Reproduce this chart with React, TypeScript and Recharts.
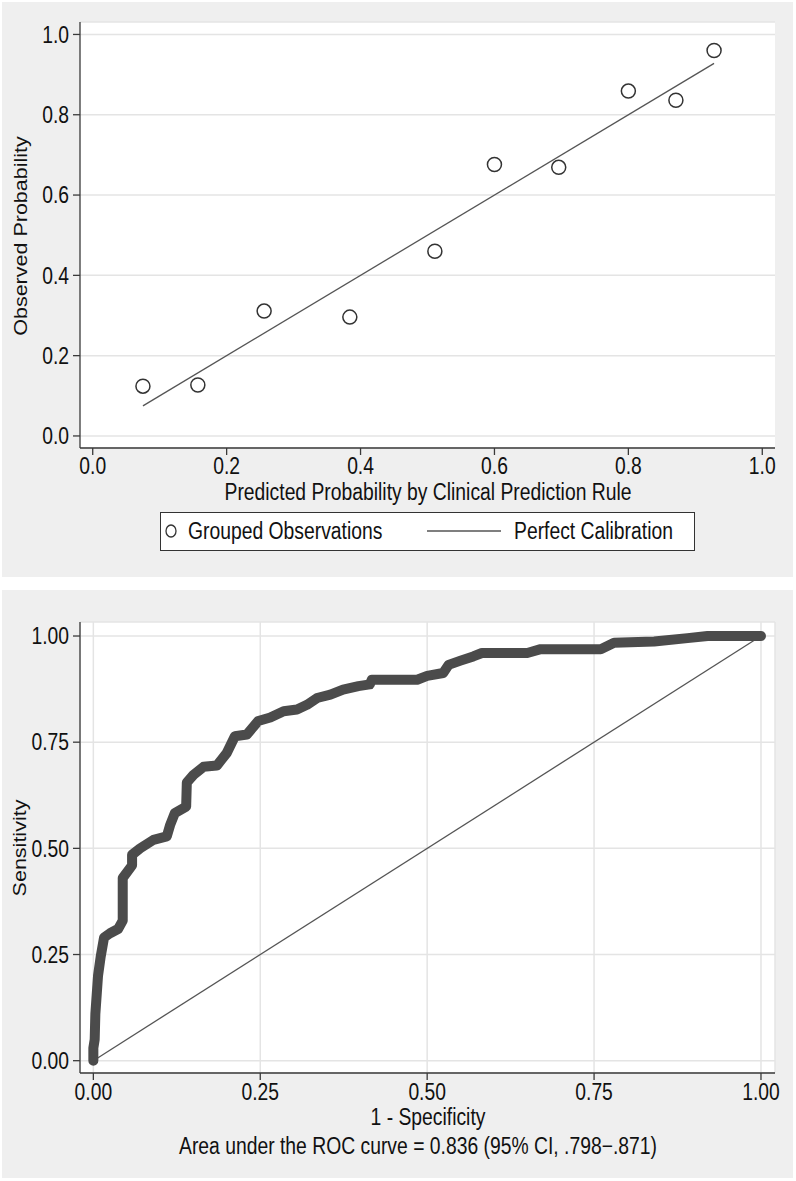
import React from "react";
import { ScatterChart, Scatter, XAxis, YAxis, CartesianGrid } from "recharts";

// calibration plot (grouped observations)
const CAL_PRED = [0.075, 0.157, 0.256, 0.384, 0.511, 0.6, 0.696, 0.8, 0.871, 0.928];
const CAL_OBS = [0.124, 0.127, 0.311, 0.296, 0.46, 0.676, 0.669, 0.859, 0.836, 0.96];
const CAL_LINE = [0.075, 0.928];
const CAL_TICKS = [0, 0.2, 0.4, 0.6, 0.8, 1];

// ROC curve
const ROC_FPR = [
  0, 0, 0.002, 0.003, 0.007, 0.011, 0.016, 0.025, 0.037, 0.044, 0.044, 0.058, 0.058,
  0.07, 0.09, 0.11, 0.115, 0.122, 0.139, 0.14, 0.15, 0.165, 0.185, 0.2, 0.212, 0.23,
  0.247, 0.265, 0.285, 0.305, 0.32, 0.335, 0.355, 0.374, 0.397, 0.414, 0.417, 0.485,
  0.5, 0.524, 0.532, 0.55, 0.569, 0.582, 0.65, 0.67, 0.76, 0.78, 0.84, 0.89, 0.92, 1,
];
const ROC_TPR = [
  0, 0.03, 0.05, 0.11, 0.2, 0.245, 0.29, 0.3, 0.31, 0.33, 0.43, 0.46, 0.485,
  0.5, 0.52, 0.528, 0.555, 0.583, 0.598, 0.655, 0.673, 0.692, 0.695, 0.725, 0.764, 0.768,
  0.8, 0.808, 0.823, 0.827, 0.838, 0.854, 0.862, 0.874, 0.882, 0.886, 0.897, 0.897,
  0.906, 0.913, 0.932, 0.942, 0.952, 0.96, 0.96, 0.969, 0.969, 0.984, 0.987, 0.995, 1, 1,
];
const ROC_DIAG = [0, 1];
const ROC_TICKS = [0, 0.25, 0.5, 0.75, 1];

const FONT = "'Liberation Sans', Arial, Helvetica, sans-serif";
const SQUISH = 0.84;
const FS = 23;
const PANEL = "#efefef";
const GRID = "#e4e4e4";
const AXIS = "#3a3a3a";
const INK = "#111";

const calPts = CAL_PRED.map((x, i) => ({ x, y: CAL_OBS[i] }));
const calLine = CAL_LINE.map((v) => ({ x: v, y: v }));
const rocPts = ROC_FPR.map((x, i) => ({ x, y: ROC_TPR[i] }));
const diag = ROC_DIAG.map((v) => ({ x: v, y: v }));

const noShape = () => <g />;

function makeTick(digits: number, side: "x" | "y") {
  return (props: any) => {
    const { x, y, payload } = props;
    return (
      <g transform={`translate(${x},${y}) scale(${SQUISH},1)`}>
        <text
          x={0}
          y={0}
          dy={side === "x" ? "0.71em" : "0.355em"}
          textAnchor={side === "x" ? "middle" : "end"}
          fill={INK}
          fontSize={FS}
          fontFamily={FONT}
        >
          {Number(payload.value).toFixed(digits)}
        </text>
      </g>
    );
  };
}

function HText({ cx, cy, children }: any) {
  return (
    <div
      style={{
        position: "absolute",
        left: cx - 400,
        top: cy - 14,
        width: 800,
        lineHeight: "28px",
        textAlign: "center",
        fontSize: FS,
        fontFamily: FONT,
        color: INK,
        whiteSpace: "nowrap",
        transform: `scaleX(${SQUISH})`,
      }}
    >
      {children}
    </div>
  );
}

function VText({ cx, cy, children }: any) {
  return (
    <div
      style={{
        position: "absolute",
        left: cx,
        top: cy,
        lineHeight: "24px",
        fontSize: 21.5,
        fontFamily: FONT,
        color: INK,
        whiteSpace: "nowrap",
        transform: `translate(-50%,-50%) scaleX(${SQUISH}) rotate(-90deg)`,
      }}
    >
      {children}
    </div>
  );
}

function LegendText({ left, children }: any) {
  return (
    <div
      style={{
        position: "absolute",
        left,
        top: 517,
        lineHeight: "28px",
        fontSize: FS,
        fontFamily: FONT,
        color: INK,
        whiteSpace: "nowrap",
        transform: `scaleX(${SQUISH})`,
        transformOrigin: "0 0",
      }}
    >
      {children}
    </div>
  );
}

const openCircle = (props: any) => (
  <circle cx={props.cx} cy={props.cy} r={7} fill="none" stroke="#333" strokeWidth={1.5} />
);

export default function App() {
  const axisLine = { stroke: AXIS, strokeWidth: 1.3 };
  return (
    <div style={{ position: "absolute", left: 0, top: 0, width: 796, height: 1181, background: "#fff" }}>
      {/* calibration panel */}
      <div style={{ position: "absolute", left: 2, top: 2, width: 791, height: 575, background: PANEL }}>
        <ScatterChart width={791} height={575} margin={{ top: 20, right: 18, bottom: 99, left: 18 }}>
          <CartesianGrid vertical={false} stroke={GRID} strokeWidth={1.5} fill="#fff" />
          <XAxis
            type="number"
            dataKey="x"
            domain={[-0.019, 1.019]}
            ticks={CAL_TICKS}
            allowDataOverflow
            height={30}
            tickSize={7}
            tickMargin={3}
            axisLine={axisLine}
            tickLine={axisLine}
            tick={makeTick(1, "x")}
          />
          <YAxis
            type="number"
            dataKey="y"
            domain={[-0.03, 1.031]}
            ticks={CAL_TICKS}
            allowDataOverflow
            width={60}
            tickSize={7}
            tickMargin={4}
            axisLine={axisLine}
            tickLine={axisLine}
            tick={makeTick(1, "y")}
          />
          <Scatter
            data={calLine}
            line={{ stroke: "#555", strokeWidth: 1.3 }}
            shape={noShape}
            isAnimationActive={false}
          />
          <Scatter data={calPts} shape={openCircle} isAnimationActive={false} />
        </ScatterChart>
      </div>
      <HText cx={428} cy={492}>Predicted Probability by Clinical Prediction Rule</HText>
      <VText cx={21} cy={236}>Observed Probability</VText>
      {/* legend */}
      <div
        style={{
          position: "absolute",
          left: 160,
          top: 512,
          width: 533,
          height: 37,
          background: "#fff",
          border: "1px solid #333",
        }}
      />
      <svg style={{ position: "absolute", left: 0, top: 0 }} width={796} height={600}>
        <ellipse cx={171} cy={531} rx={5} ry={6} fill="none" stroke="#333" strokeWidth={1.3} />
        <line x1={427} y1={531} x2={501} y2={531} stroke="#555" strokeWidth={1.3} />
      </svg>
      <LegendText left={188}>Grouped Observations</LegendText>
      <LegendText left={514}>Perfect Calibration</LegendText>

      {/* ROC panel */}
      <div style={{ position: "absolute", left: 2, top: 590, width: 791, height: 588, background: PANEL }}>
        <ScatterChart width={791} height={588} margin={{ top: 32, right: 18, bottom: 75, left: 18 }}>
          <CartesianGrid stroke={GRID} strokeWidth={1.5} fill="#fff" />
          <XAxis
            type="number"
            dataKey="x"
            domain={[-0.02, 1.021]}
            ticks={ROC_TICKS}
            allowDataOverflow
            height={30}
            tickSize={7}
            tickMargin={4}
            axisLine={axisLine}
            tickLine={axisLine}
            tick={makeTick(2, "x")}
          />
          <YAxis
            type="number"
            dataKey="y"
            domain={[-0.029, 1.033]}
            ticks={ROC_TICKS}
            allowDataOverflow
            width={60}
            tickSize={7}
            tickMargin={4}
            axisLine={axisLine}
            tickLine={axisLine}
            tick={makeTick(2, "y")}
          />
          <Scatter
            data={diag}
            line={{ stroke: "#555", strokeWidth: 1.3 }}
            shape={noShape}
            isAnimationActive={false}
          />
          <Scatter
            data={rocPts}
            line={{ stroke: "#4b4b4b", strokeWidth: 10, strokeLinecap: "round", strokeLinejoin: "round" }}
            shape={noShape}
            isAnimationActive={false}
          />
        </ScatterChart>
      </div>
      <HText cx={428} cy={1117}>1 - Specificity</HText>
      <HText cx={418} cy={1146}>Area under the ROC curve = 0.836 (95% CI, .798−.871)</HText>
      <VText cx={20} cy={848}>Sensitivity</VText>
    </div>
  );
}
